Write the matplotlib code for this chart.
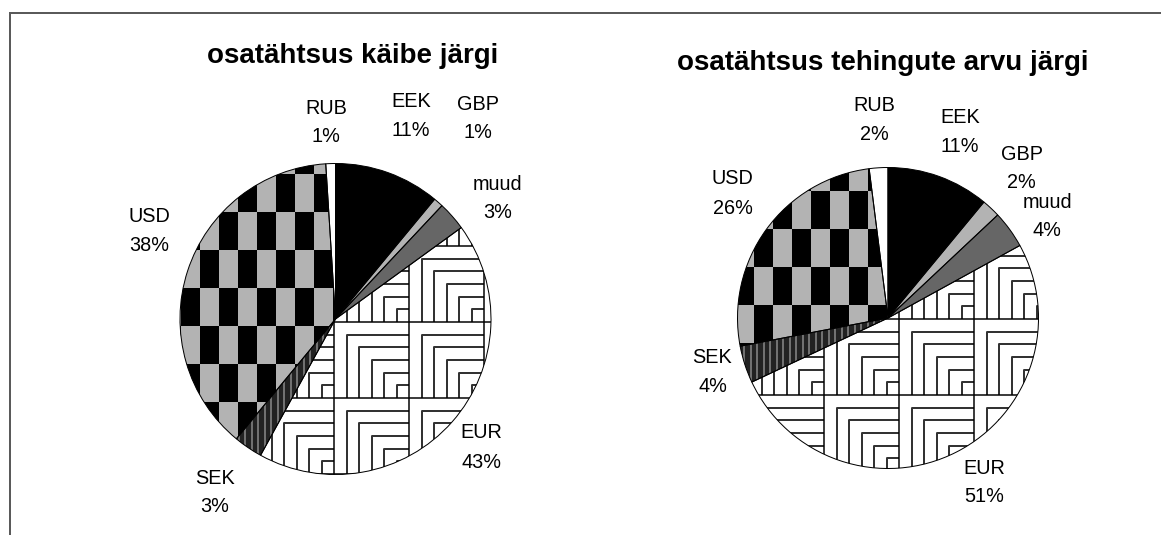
import numpy as np
import matplotlib
matplotlib.use('Agg')
import matplotlib.pyplot as plt
from matplotlib.patches import Rectangle
from matplotlib.collections import PatchCollection, LineCollection

plt.rcParams['font.family'] = ['Liberation Sans', 'DejaVu Sans']


# DATA
currencies = ['EEK', 'GBP', 'muud', 'EUR', 'SEK', 'USD', 'RUB']
share_turnover = [11, 1, 3, 43, 3, 38, 1]   # osatähtsus käibe järgi, %
share_count = [11, 2, 4, 51, 4, 26, 2]      # osatähtsus tehingute arvu järgi, %
titles = ['osatähtsus käibe järgi', 'osatähtsus tehingute arvu järgi']


# LAYOUT (everything in pixels, y pointing down)
W, H = 1161, 535
PX = 0.72  # points per pixel at dpi 100
face = {'EEK': 'black', 'GBP': '#b3b3b3', 'muud': '#666666', 'EUR': 'white',
        'SEK': '#222222', 'USD': '#b3b3b3', 'RUB': 'white'}
layout = [
    dict(center=(335.5, 319), radius=155.5, title_xy=(353, 56),
         check0=(332.5, 325.7), eur0=(334, 322),
         label_xy={'RUB': (326, 122.5), 'EEK': (411, 116), 'GBP': (477.5, 118.5),
                   'muud': (497.5, 198.5), 'USD': (149.5, 231), 'EUR': (481.5, 447.5),
                   'SEK': (215, 492.5)}),
    dict(center=(888, 318), radius=150.5, title_xy=(883, 63),
         check0=(886.7, 305), eur0=(899, 319),
         label_xy={'RUB': (874.5, 120), 'EEK': (960, 132), 'GBP': (1021.5, 168.5),
                   'muud': (1047, 216.5), 'USD': (732.5, 193.5), 'EUR': (984, 482.5),
                   'SEK': (712.5, 372)}),
]


# PATTERN FILLS
def cell_range(lo, hi, origin, step):
    return range(int(np.floor((lo - origin)/step)) - 1, int(np.ceil((hi - origin)/step)) + 1)

def checkerboard(ax, wedge, center, r, origin, w=19.0, h=38.0):
    cx, cy = center
    rects = []
    for i in cell_range(cx - r, cx + r, origin[0], w):
        for j in cell_range(cy - r, cy + r, origin[1], h):
            if (i + j) % 2:
                rects.append(Rectangle((origin[0] + i*w, origin[1] + j*h), w, h))
    pc = PatchCollection(rects, facecolor='black', edgecolor='none', zorder=2)
    ax.add_collection(pc)
    pc.set_clip_path(wedge)

def corners(ax, wedge, center, r, origin, w=75.0, h=76.0):
    cx, cy = center
    grid, inner = [], []
    for i in cell_range(cx - r, cx + r, origin[0], w):
        for j in cell_range(cy - r, cy + r, origin[1], h):
            L, T = origin[0] + i*w, origin[1] + j*h
            grid += [[(L, T), (L + w, T)], [(L, T), (L, T + h)]]
            for k in range(1, 6):
                xk, yk = L + k*w/6, T + k*h/6
                inner.append([(xk, T + h), (xk, yk), (L + w, yk)])
    for segs, col, lw in [(inner, '#333333', 2.0), (grid, 'black', 1.5)]:
        lc = LineCollection(segs, colors=col, linewidths=lw*PX, zorder=2)
        ax.add_collection(lc)
        lc.set_clip_path(wedge)

def stripes(ax, wedge, center, r, step=6.5):
    cx, cy = center
    segs = [[(x, cy - r), (x, cy + r)] for x in np.arange(cx - r, cx + r, step)]
    lc = LineCollection(segs, colors='#8c8c8c', linewidths=1.5*PX, zorder=2)
    ax.add_collection(lc)
    lc.set_clip_path(wedge)


# PLOT
fig = plt.figure(figsize=(W/100, H/100), dpi=100)
ax = fig.add_axes([0, 0, 1, 1])

for values, title, lay in zip([share_turnover, share_count], titles, layout):
    c, r = lay['center'], lay['radius']
    # y axis is inverted, so counterclock=True draws clockwise on screen
    wedges, _ = ax.pie(values, colors=[face[k] for k in currencies], startangle=-90,
                       counterclock=True, center=c, radius=r, frame=True,
                       wedgeprops=dict(linewidth=0, zorder=1))
    for name, wedge in zip(currencies, wedges):
        if name == 'USD':
            checkerboard(ax, wedge, c, r, lay['check0'])
        elif name == 'EUR':
            corners(ax, wedge, c, r, lay['eur0'])
        elif name == 'SEK':
            stripes(ax, wedge, c, r)
    # outlines on top of the patterns
    ax.pie(values, startangle=-90, counterclock=True, center=c, radius=r, frame=True,
           wedgeprops=dict(fill=False, edgecolor='black', linewidth=1.0*PX, zorder=4))

    ax.text(*lay['title_xy'], title, ha='center', va='center', fontsize=20,
            fontweight='bold')
    for name, v in zip(currencies, values):
        x, y = lay['label_xy'][name]
        ax.text(x, y - 14.5, name, ha='center', va='center', fontsize=14.3)
        ax.text(x, y + 14.5, f'{v}%', ha='center', va='center', fontsize=14.3)

# outer frame (only top and left edges are visible in the crop)
ax.plot([10, 10, W], [H, 12.7, 12.7], color='#5a5a5a', lw=2*PX, solid_joinstyle='miter')

ax.set_aspect('auto')
ax.set_xlim(0, W)
ax.set_ylim(H, 0)
ax.axis('off')
fig.savefig('out.png', dpi=100)
